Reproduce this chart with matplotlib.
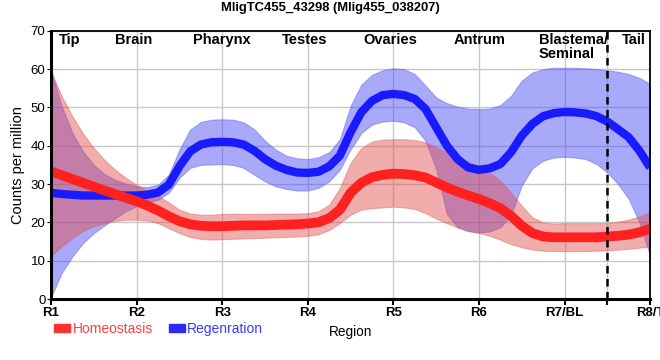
import numpy as np
import matplotlib.pyplot as plt
from matplotlib.patches import Patch

plt.rcParams["font.family"] = ["Liberation Sans", "DejaVu Sans"]

regions = ["R1", "R2", "R3", "R4", "R5", "R6", "R7/BL", "R8/T"]
tissues = ["Tip", "Brain", "Pharynx", "Testes", "Ovaries", "Antrum", "Blastema/\nSeminal", "Tail"]
tissue_x = [0.22, 0.96, 1.99, 2.96, 3.96, 5.01, 5.70, 6.81]

# sample positions along the body (region units), read every 1/8 region
pos = np.arange(57) / 8

homeo_mid = [33.3, 32.3, 31.3, 30.3, 29.3, 28.3, 27.4, 26.4, 25.5, 24.4, 23.1, 21.6, 20.3, 19.5, 19.1, 19.0,
             19.0, 19.1, 19.2, 19.2, 19.2, 19.3, 19.4, 19.5, 19.7, 20.0, 21.1, 23.3, 27.7, 30.3, 31.8, 32.4,
             32.7, 32.6, 32.3, 31.7, 30.4, 29.1, 28.0, 27.0, 26.1, 25.0, 23.7, 21.7, 19.1, 17.2, 16.3, 16.1,
             16.1, 16.1, 16.1, 16.1, 16.3, 16.5, 16.8, 17.4, 18.3]
homeo_hi = [59.4, 52.9, 47.7, 43.1, 39.4, 36.3, 33.7, 31.6, 29.8, 28.3, 27.0, 25.2, 23.3, 22.3, 22.0, 22.0,
            22.2, 22.3, 22.2, 22.2, 22.2, 22.3, 22.3, 22.3, 22.4, 22.9, 24.6, 29.0, 35.5, 39.4, 41.1, 41.6,
            41.7, 41.7, 41.5, 40.9, 39.6, 38.3, 37.0, 35.8, 34.8, 33.0, 30.9, 27.8, 24.3, 21.3, 20.0, 19.7,
            19.8, 19.8, 19.8, 19.8, 19.8, 20.2, 20.7, 21.6, 22.6]
homeo_lo = [11.1, 13.7, 15.9, 17.7, 19.0, 19.8, 20.4, 20.7, 20.7, 20.5, 19.8, 18.5, 17.2, 16.2, 15.7, 15.5,
            15.6, 15.7, 15.8, 15.9, 16.0, 16.1, 16.2, 16.3, 16.5, 16.9, 18.0, 19.8, 22.0, 23.3, 23.7, 23.9,
            24.1, 23.9, 23.5, 22.4, 21.0, 19.8, 18.7, 17.8, 17.2, 16.5, 15.5, 14.3, 13.5, 12.9, 12.6, 12.5,
            12.5, 12.5, 12.5, 12.6, 12.7, 12.9, 13.1, 13.4, 13.7]

regen_mid = [27.7, 27.4, 27.2, 27.0, 27.0, 27.0, 27.0, 27.0, 27.0, 27.2, 27.8, 29.8, 34.6, 38.5, 40.3, 40.9,
             41.0, 40.9, 40.3, 38.7, 36.5, 34.8, 33.7, 33.0, 32.9, 33.2, 34.6, 37.4, 43.5, 48.7, 51.7, 53.2,
             53.5, 53.2, 52.2, 49.6, 44.8, 40.0, 36.5, 34.3, 33.7, 34.1, 35.2, 38.3, 42.6, 45.7, 47.7, 48.5,
             48.8, 48.7, 48.4, 47.7, 46.3, 44.3, 42.2, 38.7, 34.3]
regen_hi = [59.8, 50.3, 43.3, 38.5, 35.0, 32.6, 31.1, 30.1, 29.4, 29.2, 29.8, 32.4, 39.0, 44.2, 46.2, 46.8,
            46.9, 46.8, 46.1, 44.3, 41.3, 39.0, 37.4, 36.7, 36.5, 37.0, 38.3, 41.7, 50.4, 55.9, 58.5, 59.7,
            60.2, 60.0, 58.7, 55.7, 52.6, 51.1, 50.2, 49.7, 49.6, 49.7, 50.6, 53.0, 57.0, 59.1, 60.0, 60.3,
            60.3, 60.3, 60.2, 60.0, 59.7, 59.3, 58.7, 57.7, 56.1]
regen_lo = [0.5, 6.8, 11.1, 14.6, 17.2, 19.2, 21.1, 22.9, 24.2, 25.2, 25.9, 27.7, 31.6, 34.2, 35.0, 35.1,
            35.2, 35.0, 34.2, 32.4, 30.7, 29.4, 28.7, 28.3, 28.3, 29.0, 30.7, 33.7, 39.0, 43.3, 45.5, 46.3,
            46.5, 46.1, 44.8, 41.3, 33.9, 22.2, 18.7, 17.7, 17.4, 17.6, 18.7, 21.9, 29.6, 34.1, 36.1, 36.9,
            37.1, 36.9, 36.5, 35.2, 33.0, 30.0, 26.1, 20.0, 11.3]

fig = plt.figure(figsize=(6.6, 3.6), dpi=100)
ax = fig.add_axes([0.0773, 0.1694, 0.9077, 0.7453])

ax.fill_between(pos, regen_lo, regen_hi, color="#4a4af5", alpha=0.47, lw=0.8, edgecolor="#6060f0")
ax.plot(pos, regen_mid, color="#1a1aff", lw=6, solid_capstyle="butt", solid_joinstyle="round")
ax.fill_between(pos, homeo_lo, homeo_hi, color="#e24848", alpha=0.45, lw=0.8, edgecolor="#e06060")
ax.plot(pos, homeo_mid, color="#ff2020", lw=7, solid_capstyle="butt", solid_joinstyle="round")

ax.axvline(6.5, color="black", lw=1.8, ls=(0, (3, 2.2)))

ax.set_xlim(0, 7)
ax.set_ylim(0, 70)
ax.set_xticks(list(range(8)) + [6.5])
ax.set_xticklabels(regions + [""], fontweight="bold", fontsize=9.5)
ax.set_yticks(range(0, 71, 10))
ax.tick_params(axis="y", labelsize=9.5, length=3, pad=1)
ax.tick_params(axis="x", length=4, width=1.5, pad=2)
ax.grid(True, color="#c8c8c8", lw=1)
ax.set_axisbelow(True)
for side in ["left", "bottom"]:
    ax.spines[side].set_linewidth(2.2)
for side in ["top", "right"]:
    ax.spines[side].set_linewidth(1.3)

for name, x in zip(tissues, tissue_x):
    ha = "left" if "\n" in name else "center"
    ax.text(x, 0.99, name, transform=ax.get_xaxis_transform(), ha=ha, va="top",
            fontweight="bold", fontsize=10.5, linespacing=1.0)

ax.set_ylabel("Counts per million", fontsize=10.5, labelpad=4)
ax.set_xlabel("Region", fontsize=9.8, labelpad=4)
fig.suptitle("MligTC455_43298 (Mlig455_038207)", fontweight="bold", fontsize=9.4,
             y=0.995, va="top")

handles = [Patch(color="#ff3030"), Patch(color="#2a2aff")]
leg = fig.legend(handles, ["Homeostasis", "Regenration"], loc="center left",
                 bbox_to_anchor=(0.072, 0.086), ncol=2, frameon=False, borderpad=0,
                 handlelength=1.15, handleheight=0.45, handletextpad=0.15, columnspacing=1.15,
                 prop={"size": 10})
for txt, c in zip(leg.get_texts(), ["#ff4040", "#3a3aff"]):
    txt.set_color(c)

fig.savefig("out.png", dpi=100)
